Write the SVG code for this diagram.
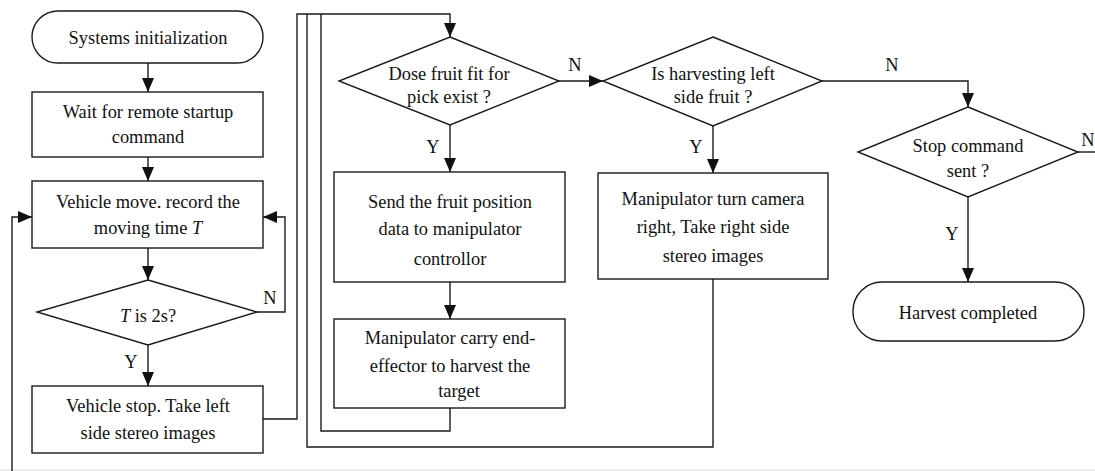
<svg xmlns="http://www.w3.org/2000/svg" width="1095" height="471" viewBox="0 0 1095 471">
<style>
.s{fill:#fff;stroke:#1a1a1a;stroke-width:1.4}
.c{fill:none;stroke:#1a1a1a;stroke-width:1.4}
text{font-family:'Liberation Serif','Times New Roman','DejaVu Serif',Times,serif;font-size:18.4px;fill:#111;text-anchor:middle}
</style>
<defs>
<marker id="ah" viewBox="0 0 14 12" refX="14" refY="6" markerWidth="14" markerHeight="12" orient="auto" markerUnits="userSpaceOnUse">
<path d="M0,0 L14,6 L0,12 Z" fill="#111"/>
</marker>
</defs>
<rect width="1095" height="471" fill="#fff"/>
<line x1="0" y1="470" x2="1095" y2="470" stroke="#e6e6e6" stroke-width="1.5"/>
<g id="connectors">
<path class="c" d="M148,63 V92" marker-end="url(#ah)"/>
<path class="c" d="M148,157 V181" marker-end="url(#ah)"/>
<path class="c" d="M148,248 V280" marker-end="url(#ah)"/>
<path class="c" d="M148,345 V386" marker-end="url(#ah)"/>
<path class="c" d="M257,312 H285 V217 H263" marker-end="url(#ah)"/>
<path class="c" d="M12,471 V217 H32" marker-end="url(#ah)"/>
<path class="c" d="M263,419 H297 V14 H450 V37" marker-end="url(#ah)"/>
<path class="c" d="M450,125 V172" marker-end="url(#ah)"/>
<path class="c" d="M450,282 V319" marker-end="url(#ah)"/>
<path class="c" d="M450,408 V431 H321 V14"/>
<path class="c" d="M713,279 V447 H307 V14"/>
<path class="c" d="M559,81 H603" marker-end="url(#ah)"/>
<path class="c" d="M713,126 V173" marker-end="url(#ah)"/>
<path class="c" d="M822,81 H968 V107" marker-end="url(#ah)"/>
<path class="c" d="M968,197 V282" marker-end="url(#ah)"/>
<path class="c" d="M1078,152 H1095"/>
<text x="270" y="304" font-family="Liberation Serif, serif">N</text>
<text x="131" y="368" font-family="Liberation Serif, serif">Y</text>
<text x="575" y="71" font-family="Liberation Serif, serif">N</text>
<text x="433" y="153" font-family="Liberation Serif, serif">Y</text>
<text x="892" y="71" font-family="Liberation Serif, serif">N</text>
<text x="696" y="153" font-family="Liberation Serif, serif">Y</text>
<text x="1088" y="146" font-family="Liberation Serif, serif">N</text>
<text x="952" y="240" font-family="Liberation Serif, serif">Y</text>
</g>
<g id="start">
<rect class="s" x="32" y="11" width="231" height="52" rx="26"/>
<text x="148" y="44">Systems initialization</text>
</g>
<g id="wait">
<rect class="s" x="32" y="92" width="231" height="65"/>
<text x="148" y="118">Wait for remote startup</text>
<text x="148" y="143">command</text>
</g>
<g id="move">
<rect class="s" x="32" y="181" width="231" height="67"/>
<text x="148" y="208">Vehicle move. record the</text>
<text x="148" y="234">moving time <tspan font-style="italic">T</tspan></text>
</g>
<g id="t2s">
<polygon class="s" points="148,280 257,312 148,345 37,312"/>
<text x="148" y="322"><tspan font-style="italic">T</tspan> is 2s?</text>
</g>
<g id="stop">
<rect class="s" x="32" y="386" width="231" height="67"/>
<text x="148" y="412">Vehicle stop. Take left</text>
<text x="148" y="439">side stereo images</text>
</g>
<g id="fruitexist">
<polygon class="s" points="450,37 559,81 450,125 339,81"/>
<text x="449" y="80">Dose fruit fit for</text>
<text x="449" y="103">pick exist ?</text>
</g>
<g id="send">
<rect class="s" x="334" y="172" width="231" height="110"/>
<text x="450" y="208">Send the fruit position</text>
<text x="450" y="235">data to manipulator</text>
<text x="450" y="265">controllor</text>
</g>
<g id="carry">
<rect class="s" x="334" y="319" width="231" height="89"/>
<text x="450" y="344">Manipulator carry end-</text>
<text x="450" y="372">effector to harvest the</text>
<text x="459" y="397">target</text>
</g>
<g id="leftside">
<polygon class="s" points="713,37 822,81 713,126 603,81"/>
<text x="713" y="80">Is harvesting left</text>
<text x="713" y="103">side fruit ?</text>
</g>
<g id="turn">
<rect class="s" x="598" y="173" width="230" height="106"/>
<text x="713" y="205">Manipulator turn camera</text>
<text x="713" y="233">right, Take right side</text>
<text x="713" y="262">stereo images</text>
</g>
<g id="stopcmd">
<polygon class="s" points="968,107 1078,152 968,197 858,152"/>
<text x="968" y="152">Stop command</text>
<text x="968" y="177">sent ?</text>
</g>
<g id="end">
<rect class="s" x="853" y="282" width="231" height="59" rx="29"/>
<text x="968" y="319">Harvest completed</text>
</g>
</svg>
